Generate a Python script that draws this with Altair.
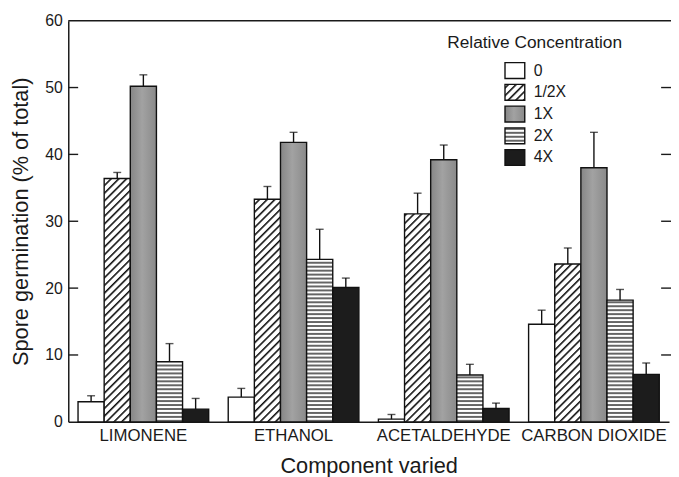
import altair as alt
import pandas as pd
from altair.utils import html as _ahtml

# ---------------- data ----------------
components = ["LIMONENE", "ETHANOL", "ACETALDEHYDE", "CARBON DIOXIDE"]
levels = ["0", "1/2X", "1X", "2X", "4X"]

limonene_mean = [3.0, 36.4, 50.2, 9.0, 1.9]
limonene_err = [0.9, 0.9, 1.7, 2.7, 1.6]
ethanol_mean = [3.7, 33.3, 41.8, 24.3, 20.1]
ethanol_err = [1.3, 1.9, 1.5, 4.5, 1.4]
acetaldehyde_mean = [0.4, 31.1, 39.2, 7.0, 2.0]
acetaldehyde_err = [0.7, 3.1, 2.2, 1.6, 0.8]
co2_mean = [14.6, 23.6, 38.0, 18.2, 7.1]
co2_err = [2.1, 2.4, 5.3, 1.6, 1.7]

y_ticks = [10, 20, 30, 40, 50]

means = [limonene_mean, ethanol_mean, acetaldehyde_mean, co2_mean]
errs = [limonene_err, ethanol_err, acetaldehyde_err, co2_err]

rows = []
for comp, ms, es in zip(components, means, errs):
    for lev, m, e in zip(levels, ms, es):
        rows.append({"component": comp, "level": lev, "value": m, "upper": m + e})
df = pd.DataFrame(rows)
ticks_df = pd.DataFrame({"t": y_ticks})
frame_df = pd.DataFrame({"k": [0]})

# ---------------- pattern fills (SVG defs added to the page) ----------------
PATTERNS = """
<svg style="position:absolute;width:0;height:0" width="0" height="0" aria-hidden="true">
 <defs>
  <pattern id="hatchdiag" patternUnits="userSpaceOnUse" width="5.5" height="5.5" patternTransform="rotate(45)">
   <rect x="0" y="0" width="5.5" height="5.5" fill="#ffffff"/>
   <line x1="0.8" y1="0" x2="0.8" y2="5.5" stroke="#111111" stroke-width="1.6"/>
  </pattern>
  <pattern id="hatchhoriz" patternUnits="userSpaceOnUse" width="8" height="4">
   <rect x="0" y="0" width="8" height="4" fill="#ffffff"/>
   <line x1="0" y1="1" x2="8" y2="1" stroke="#111111" stroke-width="1.3"/>
  </pattern>
  <linearGradient id="grayshade" x1="0" y1="0" x2="1" y2="0">
   <stop offset="0" stop-color="#868686"/>
   <stop offset="0.45" stop-color="#a2a2a2"/>
   <stop offset="1" stop-color="#8a8a8a"/>
  </linearGradient>
 </defs>
</svg>
"""

try:
    _tmpl = _ahtml.TEMPLATES["standard"]
    _orig_render = _tmpl.render

    def _render(*a, **k):
        out = _orig_render(*a, **k)
        return out.replace("<body>", "<body>" + PATTERNS, 1)

    _tmpl.render = _render
except Exception:
    pass

fill_range = [
    "#ffffff",
    "url(#hatchdiag) #bbbbbb",
    "url(#grayshade) #969696",
    "url(#hatchhoriz) #dddddd",
    "#1c1c1c",
]

W = 608
H = 406
FONT = "Liberation Sans"
INK = "#1a1a1a"
YTITLE = "Spore germination (% of total)"

yscale = alt.Scale(domain=[0, 60], nice=False, zero=True)

base = alt.Chart(df).encode(
    x=alt.X(
        "component:N",
        sort=components,
        scale=alt.Scale(paddingInner=0.13, paddingOuter=0.065),
        axis=alt.Axis(
            title="Component varied",
            labelAngle=0,
            ticks=False,
            labelPadding=6,
            labelFontSize=17,
            titleFontSize=22,
            titlePadding=12,
            domainColor=INK,
            domainWidth=1.5,
        ),
    ),
    xOffset=alt.XOffset("level:N", sort=levels, scale=alt.Scale(paddingInner=0, paddingOuter=0)),
)

bars = base.mark_bar(stroke="#111111", strokeWidth=1.4).encode(
    y=alt.Y(
        "value:Q",
        scale=yscale,
        title=YTITLE,
        axis=alt.Axis(
            values=[0, 10, 20, 30, 40, 50, 60],
            ticks=False,
            labelPadding=6,
            labelFontSize=16,
            titleFontSize=22,
            titlePadding=12,
            domainColor=INK,
            domainWidth=1.5,
            grid=False,
        ),
    ),
    fill=alt.Fill(
        "level:N",
        sort=levels,
        scale=alt.Scale(domain=levels, range=fill_range),
        legend=alt.Legend(
            title="Relative Concentration",
            orient="none",
            legendX=383,
            legendY=14,
            titleAnchor="middle",
            titleFontSize=17.5,
            titleFontWeight="normal",
            titlePadding=8,
            labelFontSize=16,
            labelOffset=8,
            symbolType="M-1,-0.8L1,-0.8L1,0.8L-1,0.8Z",
            symbolSize=400,
            symbolStrokeColor="#111111",
            symbolStrokeWidth=1.4,
            rowPadding=0,
            padding=0,
        ),
    ),
)

err_lines = base.mark_rule(color="#111111", strokeWidth=1.4).encode(
    y=alt.Y("value:Q", scale=yscale, title=YTITLE),
    y2="upper:Q",
)

caps = base.mark_tick(color="#111111", thickness=1.4, size=8).encode(
    y=alt.Y("upper:Q", scale=yscale, title=YTITLE),
)

left_ticks = alt.Chart(ticks_df).mark_rule(color=INK, strokeWidth=1.4).encode(
    y=alt.Y("t:Q", scale=yscale, title=YTITLE),
    x=alt.value(0),
    x2=alt.value(10),
)

right_ticks = alt.Chart(ticks_df).mark_rule(color=INK, strokeWidth=1.4).encode(
    y=alt.Y("t:Q", scale=yscale, title=YTITLE),
    x=alt.value(W - 8),
    x2=alt.value(W + 2),
)

top_line = alt.Chart(frame_df).mark_rule(color=INK, strokeWidth=1.5).encode(
    y=alt.value(0),
    x=alt.value(0),
    x2=alt.value(W + 2),
)

chart = (
    alt.layer(bars, err_lines, caps, left_ticks, right_ticks, top_line)
    .properties(
        width=W,
        height=H,
        autosize=alt.AutoSizeParams(type="none"),
        padding={"left": 61, "top": 10, "right": 2, "bottom": 53},
        background="#ffffff",
    )
    .configure_view(stroke=None)
    .configure_axis(
        labelFont=FONT,
        titleFont=FONT,
        labelColor=INK,
        titleColor=INK,
        titleFontWeight="normal",
    )
    .configure_legend(
        labelFont=FONT,
        titleFont=FONT,
        labelColor=INK,
        titleColor=INK,
    )
)

chart.save("out.html", embed_options={"renderer": "svg", "actions": False})
